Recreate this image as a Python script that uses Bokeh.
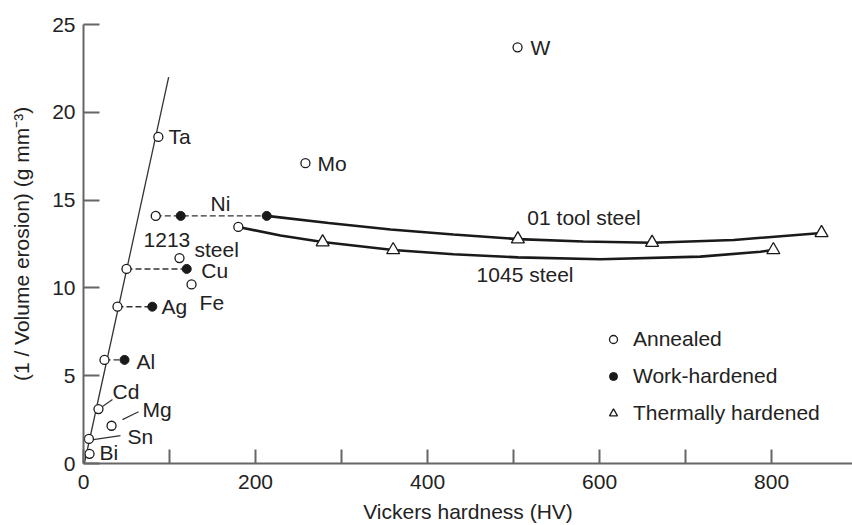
from bokeh.plotting import figure
from bokeh.models import Range1d, FixedTicker, Legend, LegendItem, ColumnDataSource
from bokeh.embed import file_html
from bokeh.resources import INLINE
from bokeh.core.properties import value

# ---------------- data ----------------
annealed_names = ["Bi", "Sn", "Mg", "Cd", "Al", "Ag", "Cu", "Ta", "Ni", "Fe",
                  "Mo", "W", "1213 steel", "1045 steel"]
annealed_hv = [7, 6.3, 32.6, 17.4, 24.4, 39.5, 50, 87, 84, 125.6, 258, 504.6, 111.6, 180]
annealed_inv = [0.55, 1.4, 2.15, 3.1, 5.9, 8.93, 11.08, 18.6, 14.1, 10.2, 17.1, 23.7, 11.7, 13.47]

work_names = ["Al", "Ag", "Cu", "Ni", "01 tool steel"]
work_hv = [47.7, 80, 120, 113, 213]
work_inv = [5.9, 8.93, 11.08, 14.1, 14.1]

thermal_tool_hv = [505, 661, 858]
thermal_tool_inv = [12.78, 12.58, 13.13]
thermal_1045_hv = [278, 360, 802]
thermal_1045_inv = [12.61, 12.16, 12.16]

# smooth curves
tool_curve_hv = [213, 285, 357, 430, 505, 581, 661, 756, 858]
tool_curve_inv = [14.1, 13.7, 13.33, 13.04, 12.78, 12.64, 12.57, 12.73, 13.13]
c1045_curve_hv = [180, 229, 278, 360, 430, 505, 601, 717, 787, 802]
c1045_curve_inv = [13.47, 12.98, 12.61, 12.16, 11.92, 11.74, 11.63, 11.78, 12.06, 12.16]

# fitted steep line for pure metals
fit_hv = [1, 99]
fit_inv = [0, 22]

# dashed links annealed -> work-hardened
link_from_hv = [84, 50, 39.5, 24.4]
link_to_hv = [213, 120, 80, 47.7]
link_inv = [14.1, 11.08, 8.93, 5.9]

x_ticks = [0, 100, 200, 300, 400, 500, 600, 700, 800]
y_ticks = [0, 5, 10, 15, 20, 25]

# ---------------- annotations ----------------
label_text = ["Ta", "W", "Mo", "Ni", "1213", "steel", "Cu", "Fe", "Ag", "Al",
              "Cd", "Mg", "Sn", "Bi", "01 tool steel", "1045 steel"]
label_hv = [98.8, 519.8, 272, 147.7, 69.8, 129, 137, 135, 90.7, 61.6,
            33.7, 68.6, 51.2, 18.6, 516, 457]
label_inv = [18.64, 23.69, 17.1, 14.83, 12.73, 12.16, 10.97, 9.15, 8.92, 5.8,
             4.09, 3.07, 1.53, 0.63, 14.03, 10.74]
leader_xs = [[22.1, 33.7], [45.3, 64.0], [11.6, 43.0]]
leader_ys = [[3.24, 3.64], [2.5, 2.95], [1.36, 1.59]]

FONT = "Liberation Sans"
TXT = "#222222"
INK = "#1a1a1a"
FS = "21px"

p = figure(width=852, height=525, output_backend="svg", toolbar_location=None,
           x_range=Range1d(0, 894), y_range=Range1d(0, 25),
           min_border_left=83, min_border_right=0, min_border_top=24,
           min_border_bottom=61)
p.outline_line_color = None
p.grid.visible = False
p.background_fill_color = "white"
p.border_fill_color = "white"

# axes
for ax in (p.xaxis[0], p.yaxis[0]):
    ax.axis_line_color = "#666666"
    ax.axis_line_width = 2
    ax.major_tick_line_color = "#666666"
    ax.major_tick_line_width = 2
    ax.major_tick_out = 0
    ax.minor_tick_line_color = None
    ax.major_label_text_font = FONT
    ax.major_label_text_font_size = FS
    ax.major_label_text_color = TXT
    ax.axis_label_text_font = FONT
    ax.axis_label_text_font_size = FS
    ax.axis_label_text_font_style = "normal"
    ax.axis_label_text_color = TXT

p.xaxis.ticker = FixedTicker(ticks=x_ticks)
p.xaxis.major_label_overrides = {t: "" for t in x_ticks if t % 200 != 0}
p.xaxis.major_tick_in = 14
p.xaxis.major_label_standoff = 11
p.xaxis.axis_label = "Vickers hardness (HV)"
p.xaxis.axis_label_standoff = 8

p.yaxis.ticker = FixedTicker(ticks=y_ticks)
p.yaxis.major_tick_in = 16
p.yaxis.major_label_standoff = 8
p.yaxis.axis_label = "(1 / Volume erosion) (g mm\u207b\u00b3)"
p.yaxis.axis_label_standoff = 16

# lines
p.line(fit_hv, fit_inv, line_color="#333333", line_width=1.3)
p.segment(x0=link_from_hv, y0=link_inv, x1=link_to_hv, y1=link_inv,
          line_color="#333333", line_width=1.4, line_dash="6 3")
p.multi_line(leader_xs, leader_ys, line_color="#333333", line_width=1.2)
p.line(tool_curve_hv, tool_curve_inv, line_color=INK, line_width=2.6)
p.line(c1045_curve_hv, c1045_curve_inv, line_color=INK, line_width=2.6)

# markers
r_ann = p.scatter(annealed_hv, annealed_inv, marker="circle", size=9,
                  fill_color="white", line_color=INK, line_width=1.3)
r_work = p.scatter(work_hv, work_inv, marker="circle", size=9,
                   fill_color=INK, line_color=INK, line_width=1.0)
r_th = p.scatter(thermal_tool_hv + thermal_1045_hv, thermal_tool_inv + thermal_1045_inv,
                 marker="triangle", size=13, fill_color="white", line_color=INK,
                 line_width=1.3)

# labels
src = ColumnDataSource(dict(x=label_hv, y=label_inv, t=label_text))
p.text(x="x", y="y", text="t", source=src, text_font=value(FONT),
       text_font_size=FS, text_color=TXT, text_align="left",
       text_baseline="middle")

legend = Legend(items=[LegendItem(label="Annealed", renderers=[r_ann]),
                       LegendItem(label="Work-hardened", renderers=[r_work]),
                       LegendItem(label="Thermally hardened", renderers=[r_th])],
                location=(520, 38), orientation="vertical",
                border_line_color=None, background_fill_alpha=0,
                label_text_font=FONT, label_text_font_size=FS,
                label_text_color=TXT, glyph_width=20, glyph_height=20,
                label_height=20, label_standoff=10, spacing=13, padding=0,
                margin=0)
p.add_layout(legend)

open("out.html", "w").write(file_html(p, INLINE))
